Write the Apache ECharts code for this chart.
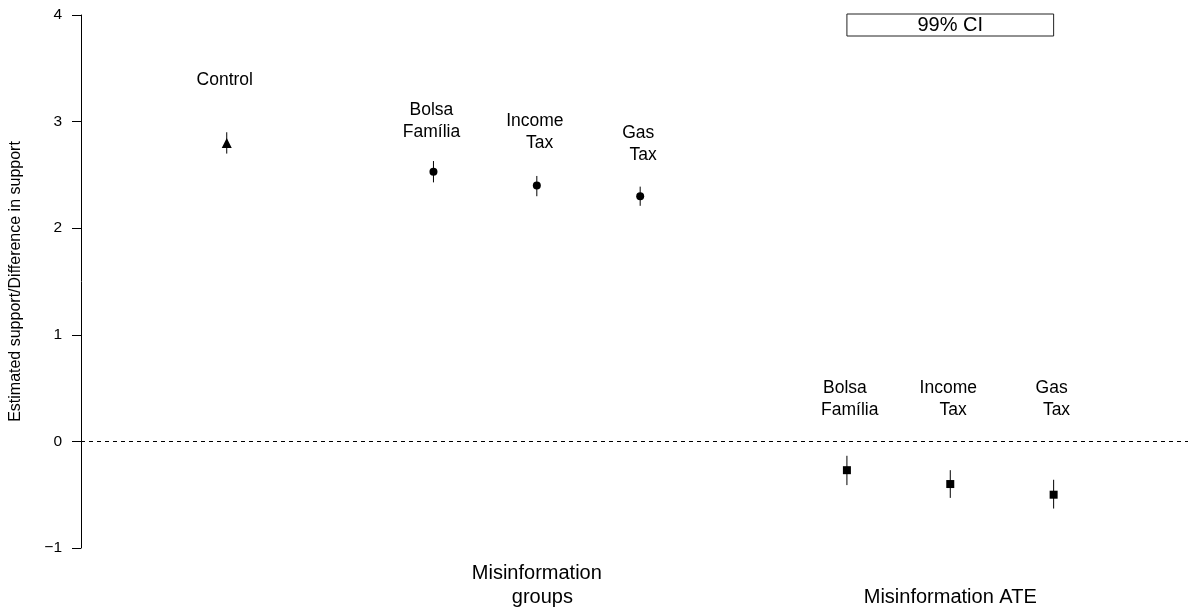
<!DOCTYPE html>
<html>
<head>
<meta charset="utf-8">
<script src="https://cdn.jsdelivr.net/npm/echarts@6/dist/echarts.min.js"></script>
<style>
html,body{margin:0;padding:0;background:#fff;}
#chart{width:1188px;height:609px;}
</style>
</head>
<body>
<div id="chart"></div>
<script>
// ---- data ----
const categories = ['Control', 'Bolsa Família', 'Income Tax', 'Gas Tax', 'Bolsa Família', 'Income Tax', 'Gas Tax'];
const groupType = ['control', 'group', 'group', 'group', 'ate', 'ate', 'ate'];
const pointLabels = ['Control', 'Bolsa\nFamília', 'Income\n  Tax', 'Gas\n  Tax', 'Bolsa\n  Família', 'Income\n  Tax', 'Gas\n  Tax'];
const xPos = [1, 3, 4, 5, 7, 8, 9];
const estimates = [2.80, 2.53, 2.40, 2.30, -0.27, -0.40, -0.50];
const lower99 = [2.70, 2.43, 2.30, 2.21, -0.41, -0.53, -0.63];
const upper99 = [2.90, 2.63, 2.49, 2.39, -0.135, -0.27, -0.36];
const labelY = [3.39, 3.00, 2.90, 2.785, 0.40, 0.40, 0.40];
const yTicks = [-1, 0, 1, 2, 3, 4];
const sectionLabels = { 4: 'Misinformation\n  groups', 8: '\nMisinformation ATE' };
const legendText = '99% CI';
const yTitle = 'Estimated support/Difference in support';

const FONT = '"Liberation Sans", Arial, Helvetica, sans-serif';

const chart = echarts.init(document.getElementById('chart'), null, { renderer: 'canvas' });

function pts(type) {
  const out = [];
  for (let i = 0; i < xPos.length; i++) if (groupType[i] === type) out.push([xPos[i], estimates[i]]);
  return out;
}

const option = {
  animation: false,
  backgroundColor: '#fff',
  textStyle: { fontFamily: FONT },
  grid: { left: 81, right: 0, top: 15, bottom: 60, containLabel: false },
  xAxis: {
    type: 'value',
    min: -0.41,
    max: 10.30,
    splitLine: { show: false },
    axisLine: { show: false },
    axisTick: { show: false },
    axisLabel: {
      show: true,
      customValues: [4, 8],
      formatter: v => sectionLabels[v] || '',
      fontSize: 20,
      lineHeight: 24,
      color: '#000',
      fontFamily: FONT,
      margin: 13,
      align: 'center'
    }
  },
  yAxis: {
    type: 'value',
    min: -1,
    max: 4,
    interval: 1,
    splitLine: { show: false },
    axisLine: { show: true, onZero: false, lineStyle: { color: '#000', width: 1 } },
    axisTick: { show: true, length: 9, lineStyle: { color: '#000', width: 1 } },
    axisLabel: {
      fontSize: 15.5, color: '#000', margin: 19, fontFamily: FONT,
      formatter: v => (yTicks.indexOf(v) >= 0 ? (v < 0 ? '\u2212' + Math.abs(v) : String(v)) : '')
    },
    name: yTitle,
    nameLocation: 'middle',
    nameRotate: 90,
    nameGap: 57,
    nameTextStyle: { fontSize: 16, color: '#000', fontFamily: FONT }
  },
  series: [
    {
      type: 'custom',
      name: 'ci',
      silent: true,
      data: xPos.map((x, i) => [x, lower99[i], upper99[i]]),
      renderItem: function (params, api) {
        const lo = api.coord([api.value(0), api.value(1)]);
        const hi = api.coord([api.value(0), api.value(2)]);
        return {
          type: 'line',
          shape: { x1: lo[0], y1: lo[1], x2: hi[0], y2: hi[1] },
          style: { stroke: '#000', lineWidth: 1 }
        };
      },
      markLine: {
        silent: true,
        symbol: ['none', 'none'],
        label: { show: false },
        lineStyle: { color: '#000', type: [4, 4], width: 1, opacity: 1 },
        data: [{ yAxis: 0 }]
      },
      z: 2
    },
    {
      type: 'scatter', name: 'control', symbol: 'triangle', symbolSize: 10,
      itemStyle: { color: '#000', opacity: 1 }, data: pts('control'), z: 3
    },
    {
      type: 'scatter', name: 'groups', symbol: 'circle', symbolSize: 8,
      itemStyle: { color: '#000', opacity: 1 }, data: pts('group'), z: 3
    },
    {
      type: 'scatter', name: 'ate', symbol: 'rect', symbolSize: 8,
      itemStyle: { color: '#000', opacity: 1 }, data: pts('ate'), z: 3
    },
    {
      type: 'scatter', name: 'labels', symbolSize: 0, silent: true,
      itemStyle: { color: '#000', opacity: 1 },
      data: xPos.map((x, i) => ({ value: [x, labelY[i]], name: pointLabels[i] })),
      label: {
        show: true, position: 'inside', formatter: p => p.name,
        fontSize: 17.5, lineHeight: 22, color: '#000', opacity: 1, fontFamily: FONT, align: 'center',
        offset: [-2, 0]
      },
      z: 4
    }
  ]
};

chart.setOption(option);

// legend box spanning the ATE section (x = 7 .. 9) at the top of the plot
const pL = chart.convertToPixel({ gridIndex: 0 }, [7, 4]);
const pR = chart.convertToPixel({ gridIndex: 0 }, [9, 4]);
chart.setOption({
  graphic: [
    {
      type: 'rect',
      shape: { x: pL[0], y: pL[1] - 1, width: pR[0] - pL[0], height: 22 },
      style: { fill: '#fff', stroke: '#222', lineWidth: 1 },
      z: 10
    },
    {
      type: 'text',
      x: (pL[0] + pR[0]) / 2,
      y: pL[1] - 1 + 11,
      style: { text: legendText, fontSize: 20, fill: '#000', align: 'center', verticalAlign: 'middle', fontFamily: FONT },
      z: 11
    }
  ]
});
</script>
</body>
</html>
